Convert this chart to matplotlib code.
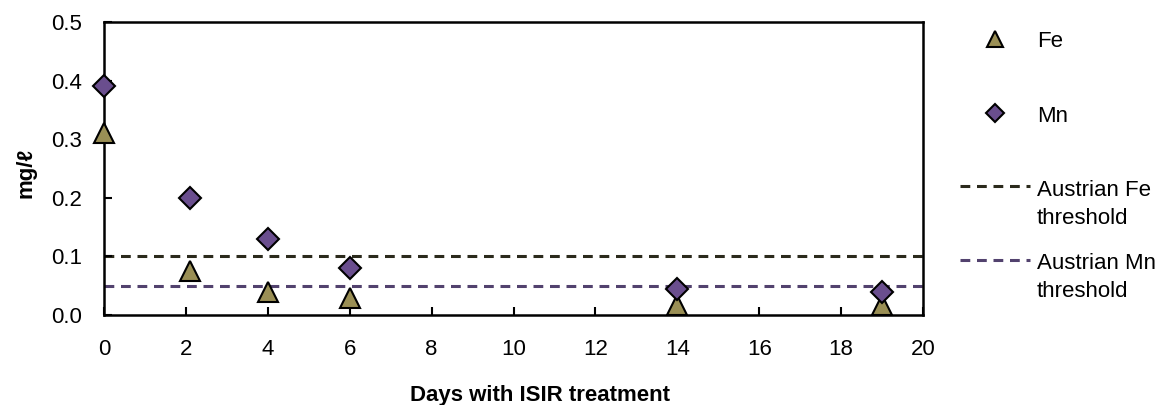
import matplotlib
matplotlib.use("Agg")
import matplotlib.pyplot as plt
from matplotlib.lines import Line2D
from matplotlib.ticker import FormatStrFormatter

plt.rcParams["font.family"] = ["Liberation Sans", "DejaVu Sans"]

# Data
fe_days = [0, 2.1, 4, 6, 14, 19]
fe_values = [0.31, 0.075, 0.04, 0.03, 0.018, 0.017]
mn_days = [0, 2.1, 4, 6, 14, 19]
mn_values = [0.39, 0.20, 0.13, 0.08, 0.045, 0.04]
fe_threshold = 0.1
mn_threshold = 0.05
legend_labels = ["Fe", "Mn", "Austrian Fe\nthreshold", "Austrian Mn\nthreshold"]

fe_color = "#9a8f55"
mn_color = "#6a4e8e"
fe_line_color = "#2b2a1c"
mn_line_color = "#52426e"
dash = (0, (3.2, 2.2))

W, H = 1161, 405
fig = plt.figure(figsize=(W / 100, H / 100), dpi=100)
ax = fig.add_axes([0.0896, 0.222, 0.7054, 0.7237])

ax.axhline(fe_threshold, color=fe_line_color, lw=2.2, ls=dash, zorder=1)
ax.axhline(mn_threshold, color=mn_line_color, lw=2.2, ls=dash, zorder=1)
ax.plot(fe_days, fe_values, ls="none", marker="^", ms=14, mfc=fe_color,
        mec="black", mew=1.5, zorder=3, clip_on=False)
ax.plot(mn_days, mn_values, ls="none", marker="D", ms=11, mfc=mn_color,
        mec="black", mew=1.5, zorder=4, clip_on=False)

ax.set_xlim(0, 20)
ax.set_ylim(0, 0.5)
ax.set_xticks(range(0, 21, 2))
ax.set_yticks([0, 0.1, 0.2, 0.3, 0.4, 0.5])
ax.yaxis.set_major_formatter(FormatStrFormatter("%.1f"))
ax.tick_params(direction="in", length=6, width=1.5, labelsize=16)
ax.tick_params(axis="y", pad=16)
ax.tick_params(axis="x", pad=17)
for spine in ax.spines.values():
    spine.set_linewidth(1.8)

ax.set_xlabel("Days with ISIR treatment", fontsize=16, fontweight="bold")
ax.xaxis.set_label_coords(0.532, -0.24)
ax.set_ylabel("mg/\u2113", fontsize=16, fontweight="bold")
ax.yaxis.set_label_coords(-0.082, 0.485)


# Legend drawn by hand (Excel style: handle aligned with first text line)
def fx(px):
    return px / W


def fy(py):
    return 1 - py / H


marker_styles = [
    dict(marker="^", ms=12, mfc=fe_color),
    dict(marker="D", ms=9, mfc=mn_color),
]
marker_rows = [39, 113]
for style, row in zip(marker_styles, marker_rows):
    fig.add_artist(Line2D([fx(995)], [fy(row)], ls="none", mec="black", mew=1.5,
                          transform=fig.transFigure, **style))

line_colors = [fe_line_color, mn_line_color]
line_rows = [186, 260]
for color, row in zip(line_colors, line_rows):
    fig.add_artist(Line2D([fx(960), fx(1030)], [fy(row), fy(row)], color=color,
                          lw=2.2, ls=dash, transform=fig.transFigure))

baselines = [47, 122, 196, 269]
for label, base in zip(legend_labels, baselines):
    for i, line in enumerate(label.split("\n")):
        fig.text(fx(1037), fy(base + i * 28), line, fontsize=16, va="baseline")

fig.savefig("out.png", dpi=100)
